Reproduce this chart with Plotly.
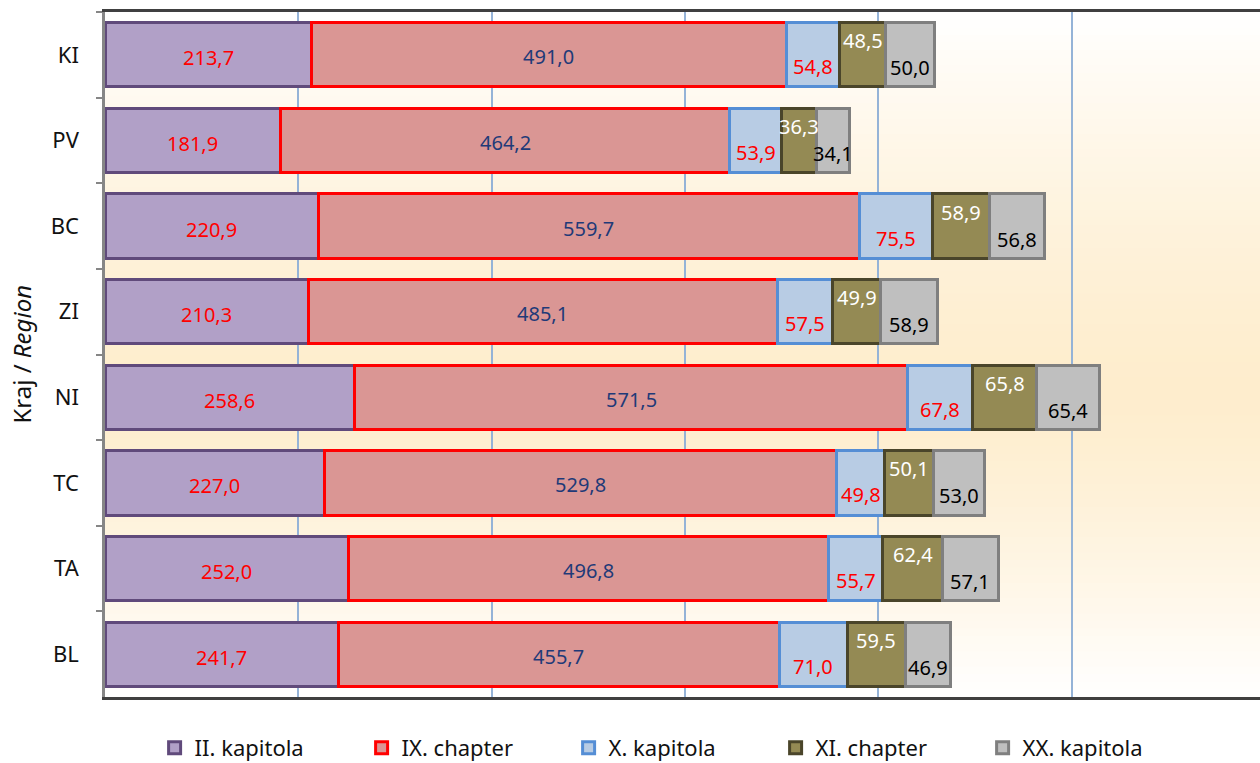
import plotly.graph_objects as go
import numpy as np

regions = ["KI", "PV", "BC", "ZI", "NI", "TC", "TA", "BL"]
series_names = ["II. kapitola", "IX. chapter", "X. kapitola", "XI. chapter", "XX. kapitola"]
ii_kapitola = [213.7, 181.9, 220.9, 210.3, 258.6, 227.0, 252.0, 241.7]
ix_chapter = [491.0, 464.2, 559.7, 485.1, 571.5, 529.8, 496.8, 455.7]
x_kapitola = [54.8, 53.9, 75.5, 57.5, 67.8, 49.8, 55.7, 71.0]
xi_chapter = [48.5, 36.3, 58.9, 49.9, 65.8, 50.1, 62.4, 59.5]
xx_kapitola = [50.0, 34.1, 56.8, 58.9, 65.4, 53.0, 57.1, 46.9]

series_values = [ii_kapitola, ix_chapter, x_kapitola, xi_chapter, xx_kapitola]
fills = ["#B1A0C7", "#DA9694", "#B8CCE4", "#948A54", "#BFBFBF"]
borders = ["#604A7B", "#FF0000", "#558ED5", "#4A452A", "#7F7F7F"]
label_colors = ["#FF0000", "#1F3A78", "#FF0000", "#FFFFFF", "#000000"]
label_shift = [-3, -2, -12, 14, -13]

FONT = "Noto Sans"

fig = go.Figure()
for name, vals, fc, bc in zip(series_names, series_values, fills, borders):
    fig.add_trace(go.Bar(
        y=regions, x=vals, name=name, orientation="h",
        marker=dict(color=fc, line=dict(color=bc, width=3)),
    ))

# data labels via annotations on the data axes
cum = np.zeros(len(regions))
annotations = []
for vals, col, sh in zip(series_values, label_colors, label_shift):
    v = np.array(vals)
    centers = cum + v / 2
    for r, c, val in zip(regions, centers, v):
        annotations.append(dict(
            x=c, y=r, xref="x", yref="y", text=f"{val:.1f}".replace(".", ","),
            showarrow=False, yshift=sh,
            font=dict(family=FONT, size=20, color=col),
        ))
    cum = cum + v

annotations.append(dict(
    x=(21 - 105) / 1155, y=0.5, xref="paper", yref="paper", xanchor="center", yanchor="middle",
    text="Kraj / <i>Region</i>", textangle=-90, showarrow=False,
    font=dict(family=FONT, size=24, color="#111111"),
))

# vertical background gradient (white -> cream -> white)
shapes = []
n = 90
peak = 0.45
c_peak = np.array([254, 237, 205])
c_white = np.array([255, 255, 255])
for i in range(n):
    y0 = i / n
    y1 = (i + 1) / n
    ym = (y0 + y1) / 2
    d = abs(ym - peak) / (1 - peak if ym > peak else peak)
    a = max(0.0, 1 - d ** 1.4)
    c = c_white + (c_peak - c_white) * a
    shapes.append(dict(
        type="rect", xref="x domain", yref="y domain", x0=0, x1=1, y0=y0, y1=y1 + 0.002,
        fillcolor="rgb(%d,%d,%d)" % tuple(int(round(t)) for t in c),
        line=dict(width=0), layer="below",
    ))

fig.update_layout(
    width=1260, height=763,
    margin=dict(l=105, r=0, t=12, b=66, autoexpand=False),
    barmode="stack", bargap=0.25,
    paper_bgcolor="white", plot_bgcolor="white",
    font=dict(family=FONT, size=18, color="#111111"),
    showlegend=True,
    legend=dict(
        orientation="h", x=0.491, xanchor="center", y=-0.0745, yanchor="middle",
        font=dict(family=FONT, size=22, color="#111111"),
        entrywidth=162, traceorder="normal", itemwidth=30,
    ),
    annotations=annotations,
    shapes=shapes,
)
fig.update_xaxes(
    range=[0, 1195], showticklabels=False, ticks="",
    showgrid=True, gridcolor="#95B3D7", gridwidth=1.5, dtick=200, tick0=0,
    showline=True, linecolor="#404040", linewidth=2.5, mirror=True, zeroline=False,
    automargin=False,
)
fig.update_yaxes(
    categoryorder="array", categoryarray=regions, autorange="reversed",
    showline=True, linecolor="#868686", linewidth=2.5,
    ticks="outside", tickson="boundaries", ticklen=6, tickcolor="#868686", tickwidth=2,
    tickfont=dict(family=FONT, size=22, color="#111111"),
    ticklabelstandoff=19, showgrid=False, automargin=False,
)

fig.write_html(
    "out.html",
    config={"displayModeBar": False},
    post_script="document.body.style.margin='0';document.body.style.overflow='hidden';",
)
